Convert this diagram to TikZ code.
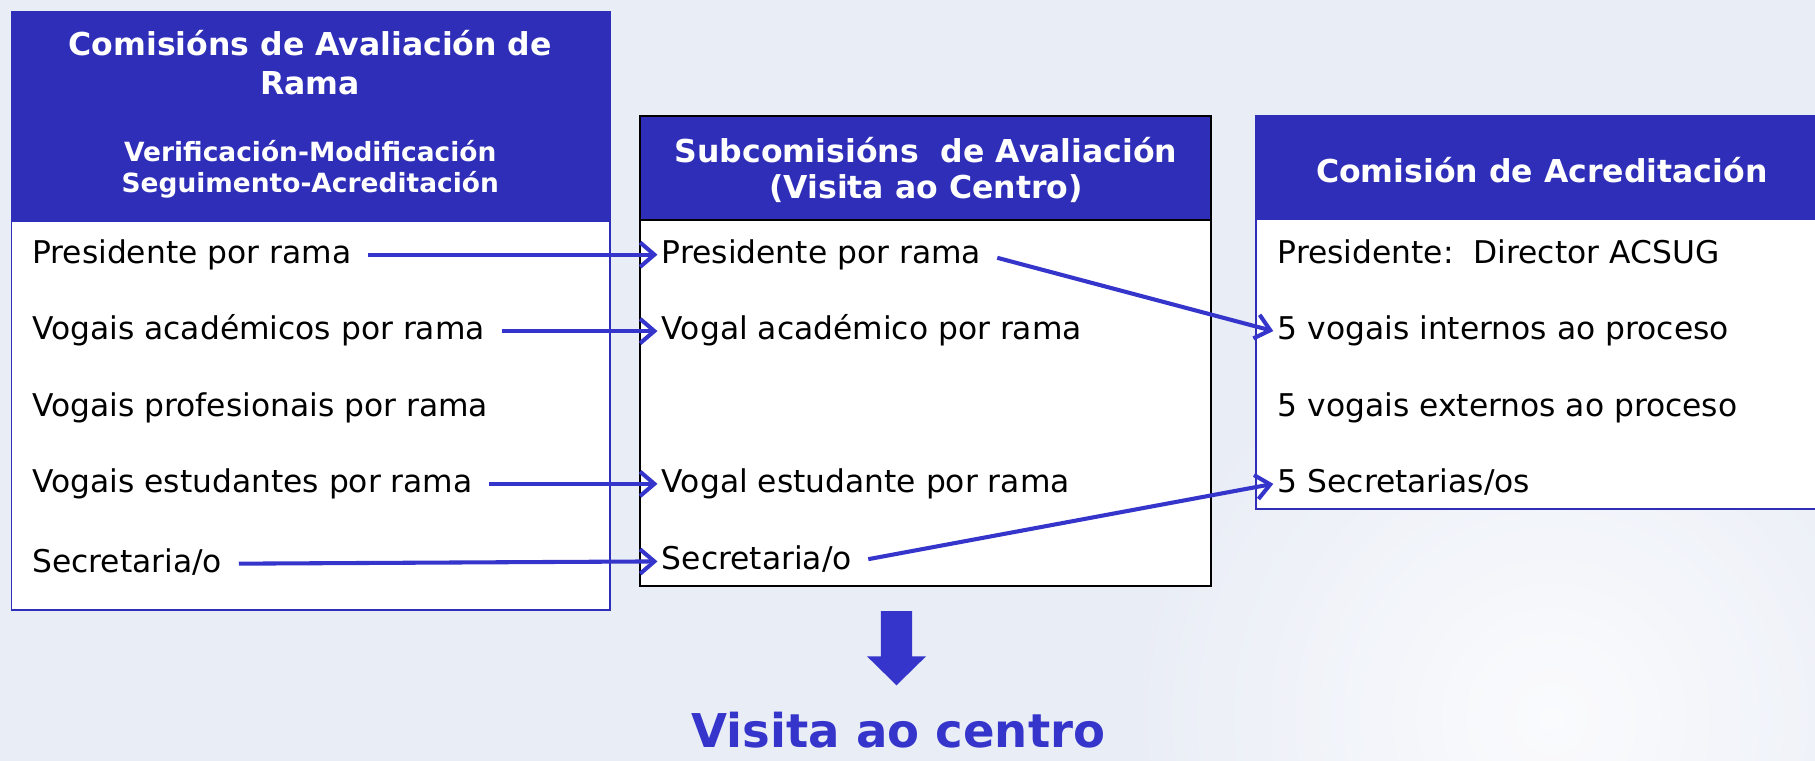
\documentclass[tikz,border=0pt]{standalone}
\usepackage{fontspec}
\setmainfont{DejaVu Sans}
\usetikzlibrary{arrows.meta}

\definecolor{hdrblue}{RGB}{46,46,184}
\definecolor{arrblue}{RGB}{53,53,204}
\definecolor{bgcol}{RGB}{233,237,246}

\begin{document}
\begin{tikzpicture}[x=0.2mm,y=-0.2mm,
  item/.style={anchor=west,inner sep=2pt,text height=12pt,text depth=3.6pt,font=\fontsize{15.4}{18}\selectfont},
  head/.style={align=center,text=white,font=\bfseries\fontsize{15.5}{17.6}\selectfont},
  link/.style={draw=arrblue,line width=2pt,-{Straight Barb[length=7pt,width=12pt]},shorten <=6pt}]

  \fill[bgcol] (0,0) rectangle (1568,657);
  \useasboundingbox (0,0) rectangle (1568,657);
  \shade[inner color=white,outer color=bgcol,opacity=0.8] (1340,620) circle (380);

  % boxes
  \fill[white] (10,10) rectangle (527,527);
  \fill[hdrblue] (10,10) rectangle (527,192);
  \draw[hdrblue,line width=0.9pt] (10,10) rectangle (527,527);

  \fill[white] (553,100) rectangle (1046,506);
  \fill[hdrblue] (553,100) rectangle (1046,190);
  \draw[black,line width=1.1pt] (553,190) -- (1046,190);
  \draw[black,line width=1.1pt] (553,100) rectangle (1046,506);

  \fill[white] (1085,100) rectangle (1580,440);
  \fill[hdrblue] (1085,100) rectangle (1580,190);
  \draw[hdrblue,line width=0.9pt] (1085,100) rectangle (1580,440);

  % headers
  \node[head,font=\bfseries\fontsize{15.5}{18.8}\selectfont] (lhead) at (268,54) {Comisións de Avaliación de\\Rama};
  \node[head,font=\bfseries\fontsize{13}{15.4}\selectfont] (lsub) at (268,146) {Verificación-Modificación\\Seguimento-Acreditación};
  \node[head] (mhead) at (800,147) {Subcomisións\ \ de Avaliación\\(Visita ao Centro)};
  \node[head] (rhead) at (1332,147) {Comisión de Acreditación};

  % left items
  \node[item] (lp) at (24,220) {Presidente por rama};
  \node[item] (la) at (24,286) {Vogais académicos por rama};
  \node[item] (lf) at (24,352) {Vogais profesionais por rama};
  \node[item] (le) at (24,418) {Vogais estudantes por rama};
  \node[item] (ls) at (24,487) {Secretaria/o};

  % middle items
  \node[item] (mp) at (568,220) {Presidente por rama};
  \node[item] (ma) at (568,286) {Vogal académico por rama};
  \node[item] (me) at (568,418) {Vogal estudante por rama};
  \node[item] (ms) at (568,485) {Secretaria/o};

  % right items
  \node[item] (rp) at (1100,220) {Presidente:\ \ Director ACSUG};
  \node[item] (ri) at (1100,286) {5 vogais internos ao proceso};
  \node[item] (rx) at (1100,352) {5 vogais externos ao proceso};
  \node[item] (rs) at (1100,418) {5 Secretarias/os};

  \path[]
  (lp.east) edge [link] node [] {} (mp.west)
  (la.east) edge [link] node [] {} (ma.west)
  (le.east) edge [link] node [] {} (me.west)
  (ls.east) edge [link] node [] {} (ms.west)
  (mp.east) edge [link] node [] {} (ri.west)
  (ms.east) edge [link] node [] {} (rs.west);

  % block arrow and result
  \fill[arrblue] (761,528) -- (788,528) -- (788,567) -- (800,567) -- (774.5,592) -- (749,567) -- (761,567) -- cycle;
  \node[anchor=base,inner sep=0pt,text=arrblue,font=\bfseries\fontsize{22.9}{26}\selectfont] (visit) at (776,646) {Visita ao centro};
\end{tikzpicture}
\end{document}
